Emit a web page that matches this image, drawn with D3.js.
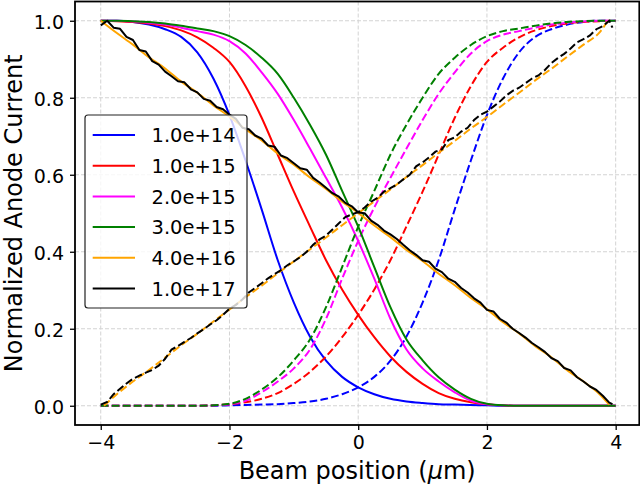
<!DOCTYPE html>
<html><head><meta charset="utf-8">
<script src="https://cdn.jsdelivr.net/npm/d3@7/dist/d3.min.js"></script>
<style>body{margin:0;background:#fff}svg{display:block}</style>
</head><body>
<svg id="c" width="640" height="486"></svg>
<script>
// ---- data ----
const seriesLabels = ["1.0e+14","1.0e+15","2.0e+15","3.0e+15","4.0e+16","1.0e+17"];
const seriesColors = ["#0000ff","#ff0000","#ff00ff","#008000","#ffa500","#000000"];
const xTicks = [-4,-2,0,2,4];
const yTicks = [0.0,0.2,0.4,0.6,0.8,1.0];

const xGrid = [-4,-3.75,-3.5,-3.25,-3,-2.75,-2.5,-2.25,-2,-1.75,-1.5,-1.25,-1,-0.75,-0.5,-0.25,0,0.25,0.5,0.75,1,1.25,1.5,1.75,2,2.25,2.5,2.75,3,3.25,3.5,3.75,4];

const blueSolid = [1.0,1.0,0.997,0.99,0.978,0.958,0.918,0.85,0.755,0.637,0.51,0.378,0.268,0.18,0.117,0.075,0.048,0.03,0.018,0.011,0.007,0.004,0.003,0.002,0.001,0,0,0,0,0,0,0,0];
const redSolid = [1.0,0.999,0.997,0.993,0.986,0.975,0.957,0.93,0.893,0.83,0.748,0.652,0.556,0.466,0.378,0.302,0.236,0.178,0.128,0.088,0.057,0.033,0.018,0.009,0.004,0.001,0,0,0,0,0,0,0];
const magentaSolid = [1.0,1.0,0.998,0.995,0.99,0.982,0.973,0.964,0.947,0.915,0.866,0.81,0.742,0.668,0.592,0.515,0.428,0.33,0.226,0.146,0.097,0.063,0.035,0.013,0.004,0.001,0,0,0,0,0,0,0];
const greenSolid = [1.0,1.0,0.999,0.997,0.993,0.987,0.98,0.973,0.96,0.937,0.904,0.862,0.8,0.73,0.652,0.558,0.465,0.36,0.256,0.172,0.118,0.074,0.042,0.018,0.005,0.001,0,0,0,0,0,0,0];

const blueDashed = [0,0,0,0,0,0,0,0,0.001,0.002,0.003,0.004,0.007,0.011,0.018,0.03,0.048,0.075,0.117,0.18,0.268,0.378,0.51,0.637,0.755,0.85,0.918,0.958,0.978,0.99,0.997,1.0,1.0];
const redDashed = [0,0,0,0,0,0,0,0.001,0.004,0.009,0.018,0.033,0.057,0.088,0.128,0.178,0.236,0.302,0.378,0.466,0.556,0.652,0.748,0.83,0.893,0.93,0.957,0.975,0.986,0.993,0.997,0.999,1.0];
const magentaDashed = [0,0,0,0,0,0,0,0.001,0.004,0.013,0.035,0.063,0.097,0.146,0.226,0.33,0.428,0.515,0.592,0.668,0.742,0.81,0.866,0.915,0.947,0.964,0.973,0.982,0.99,0.995,0.998,1.0,1.0];
const greenDashed = [0,0,0,0,0,0,0,0.001,0.005,0.018,0.042,0.074,0.118,0.172,0.256,0.36,0.465,0.558,0.652,0.73,0.8,0.862,0.904,0.937,0.96,0.973,0.98,0.987,0.993,0.997,0.999,1.0,1.0];

const orangeSolidX = [-4,-3.75,-3.5,-3.25,-3,-2.75,-2.5,-2.25,-2,-1.75,-1.5,-1.25,-1,-0.75,-0.5,-0.25,0,0.25,0.5,0.75,1,1.25,1.5,1.75,2,2.25,2.5,2.75,3,3.25,3.5,3.75,3.9];
const orangeSolid = [1.0,0.968,0.938,0.905,0.876,0.842,0.813,0.78,0.751,0.718,0.689,0.655,0.626,0.593,0.563,0.53,0.501,0.468,0.438,0.405,0.376,0.343,0.313,0.28,0.251,0.217,0.188,0.155,0.126,0.092,0.063,0.03,0.003];
const orangeDashedX = [-3.95,-3.75,-3.5,-3.25,-3,-2.75,-2.5,-2.25,-2,-1.75,-1.5,-1.25,-1,-0.75,-0.5,-0.25,0,0.25,0.5,0.75,1,1.25,1.5,1.75,2,2.25,2.5,2.75,3,3.25,3.5,3.75,3.88];
const orangeDashed = [0.0,0.03,0.063,0.093,0.125,0.157,0.187,0.219,0.25,0.282,0.312,0.344,0.375,0.406,0.437,0.469,0.5,0.531,0.562,0.594,0.625,0.657,0.688,0.72,0.75,0.782,0.813,0.845,0.875,0.907,0.938,0.97,1.0];

const blackX = [-4,-3.9,-3.8,-3.7,-3.6,-3.5,-3.4,-3.3,-3.2,-3.1,-3,-2.9,-2.8,-2.7,-2.6,-2.5,-2.4,-2.3,-2.2,-2.1,-2,-1.9,-1.8,-1.7,-1.6,-1.5,-1.4,-1.3,-1.2,-1.1,-1,-0.9,-0.8,-0.7,-0.6,-0.5,-0.4,-0.3,-0.2,-0.1,0,0.1,0.2,0.3,0.4,0.5,0.6,0.7,0.8,0.9,1,1.1,1.2,1.3,1.4,1.5,1.6,1.7,1.8,1.9,2,2.1,2.2,2.3,2.4,2.5,2.6,2.7,2.8,2.9,3,3.1,3.2,3.3,3.4,3.5,3.6,3.7,3.8,3.9,3.95];
const blackSolid = [0.988,1.0,0.982,0.979,0.958,0.95,0.924,0.92,0.895,0.886,0.868,0.856,0.843,0.84,0.822,0.814,0.797,0.792,0.776,0.77,0.756,0.745,0.722,0.718,0.702,0.694,0.676,0.673,0.65,0.643,0.63,0.617,0.613,0.592,0.58,0.566,0.552,0.543,0.527,0.518,0.502,0.5,0.481,0.47,0.455,0.445,0.433,0.418,0.404,0.392,0.378,0.374,0.356,0.347,0.33,0.322,0.306,0.294,0.279,0.268,0.249,0.245,0.226,0.216,0.2,0.189,0.177,0.163,0.152,0.14,0.124,0.116,0.098,0.092,0.074,0.063,0.05,0.041,0.026,0.008,0.004];
const blackDashed = [0.003,0.01,0.03,0.044,0.058,0.07,0.078,0.086,0.093,0.104,0.122,0.146,0.155,0.166,0.176,0.188,0.199,0.211,0.222,0.236,0.252,0.262,0.276,0.294,0.306,0.318,0.331,0.342,0.352,0.365,0.375,0.386,0.4,0.418,0.432,0.442,0.458,0.474,0.49,0.497,0.503,0.515,0.53,0.54,0.556,0.565,0.575,0.588,0.6,0.622,0.632,0.645,0.66,0.666,0.69,0.697,0.712,0.722,0.742,0.756,0.764,0.777,0.79,0.806,0.818,0.826,0.838,0.85,0.858,0.872,0.89,0.903,0.914,0.928,0.944,0.952,0.962,0.978,0.986,1.0,0.982];

// ---- drawing ----
const svg = d3.select("#c");
const L = 75, R = 639.3, T = 1.5, B = 425;
const x = d3.scaleLinear().domain([-4.4, 4.367]).range([L, R]);
const y = d3.scaleLinear().domain([-0.05, 1.05]).range([B, T]);
const font = "DejaVu Sans, sans-serif";

// grid
const g = svg.append("g");
g.selectAll(".gx").data(xTicks).enter().append("line")
  .attr("x1", d => x(d)).attr("x2", d => x(d)).attr("y1", T).attr("y2", B)
  .attr("stroke", "#d3d3d3").attr("stroke-width", 1).attr("stroke-dasharray", "4,2");
g.selectAll(".gy").data(yTicks).enter().append("line")
  .attr("y1", d => y(d)).attr("y2", d => y(d)).attr("x1", L).attr("x2", R)
  .attr("stroke", "#d3d3d3").attr("stroke-width", 1).attr("stroke-dasharray", "4,2");

const line = d3.line().x(d => x(d[0])).y(d => y(d[1])).curve(d3.curveMonotoneX);
const zip = (xs, ys) => xs.map((v, i) => [v, ys[i]]);

const series = [
  [xGrid, blueSolid, xGrid, blueDashed],
  [xGrid, redSolid, xGrid, redDashed],
  [xGrid, magentaSolid, xGrid, magentaDashed],
  [xGrid, greenSolid, xGrid, greenDashed],
  [orangeSolidX, orangeSolid, orangeDashedX, orangeDashed],
  [blackX, blackSolid, blackX, blackDashed]
];
const plot = svg.append("g");
series.forEach((s, i) => {
  const lin = (i === 5) ? d3.line().x(d => x(d[0])).y(d => y(d[1])) : line;
  plot.append("path").attr("d", lin(zip(s[0], s[1])))
    .attr("fill", "none").attr("stroke", seriesColors[i]).attr("stroke-width", 2).attr("stroke-linejoin","round");
  plot.append("path").attr("d", lin(zip(s[2], s[3])))
    .attr("fill", "none").attr("stroke", seriesColors[i]).attr("stroke-width", 2)
    .attr("stroke-dasharray", "7.7,3.3");
});

// axes
const xAxis = d3.axisBottom(x).tickValues(xTicks).tickSize(5).tickPadding(5)
  .tickFormat(d => d < 0 ? "\u2212" + Math.abs(d) : String(d));
const yAxis = d3.axisLeft(y).tickValues(yTicks).tickSize(5).tickPadding(6)
  .tickFormat(d3.format(".1f"));
const gx = svg.append("g").attr("transform", `translate(0,${B})`).call(xAxis);
const gy = svg.append("g").attr("transform", `translate(${L},0)`).call(yAxis);
[gx, gy].forEach(a => {
  a.select(".domain").remove();
  a.selectAll("line").attr("stroke", "#000").attr("stroke-width", 1.3);
  a.selectAll("text").attr("font-family", font).attr("font-size", 19).attr("fill", "#000");
});
gx.selectAll("text").attr("dy", "0.72em");
gy.selectAll("text").attr("dy", "0.42em");

// frame
svg.append("rect").attr("x", L).attr("y", T).attr("width", R - L).attr("height", B - T)
  .attr("fill", "none").attr("stroke", "#000").attr("stroke-width", 1.8);

// axis labels
const xl = svg.append("text").attr("x", (L + R) / 2).attr("y", 479).attr("text-anchor", "middle")
  .attr("font-family", font).attr("font-size", 24).attr("fill", "#000");
xl.append("tspan").text("Beam position (");
xl.append("tspan").attr("font-style", "italic").text("\u03bc");
xl.append("tspan").text("m)");
svg.append("text").attr("transform", `translate(22,${(T + B) / 2}) rotate(-90)`)
  .attr("text-anchor", "middle").attr("font-family", font).attr("font-size", 24).attr("fill", "#000")
  .text("Normalized Anode Current");

// legend
const lg = svg.append("g");
lg.append("rect").attr("x", 85).attr("y", 115).attr("width", 162).attr("height", 193).attr("rx", 3)
  .attr("fill", "#fff").attr("fill-opacity", 0.8).attr("stroke", "#222").attr("stroke-width", 1.2);
seriesLabels.forEach((lab, i) => {
  const cy = 135 + i * 30.7;
  lg.append("line").attr("x1", 92.7).attr("x2", 135).attr("y1", cy).attr("y2", cy)
    .attr("stroke", seriesColors[i]).attr("stroke-width", 2);
  lg.append("text").attr("x", 151.5).attr("y", cy + 7.3).attr("font-family", font).attr("font-size", 19.5)
    .attr("fill", "#000").text(lab);
});
</script>
</body></html>
